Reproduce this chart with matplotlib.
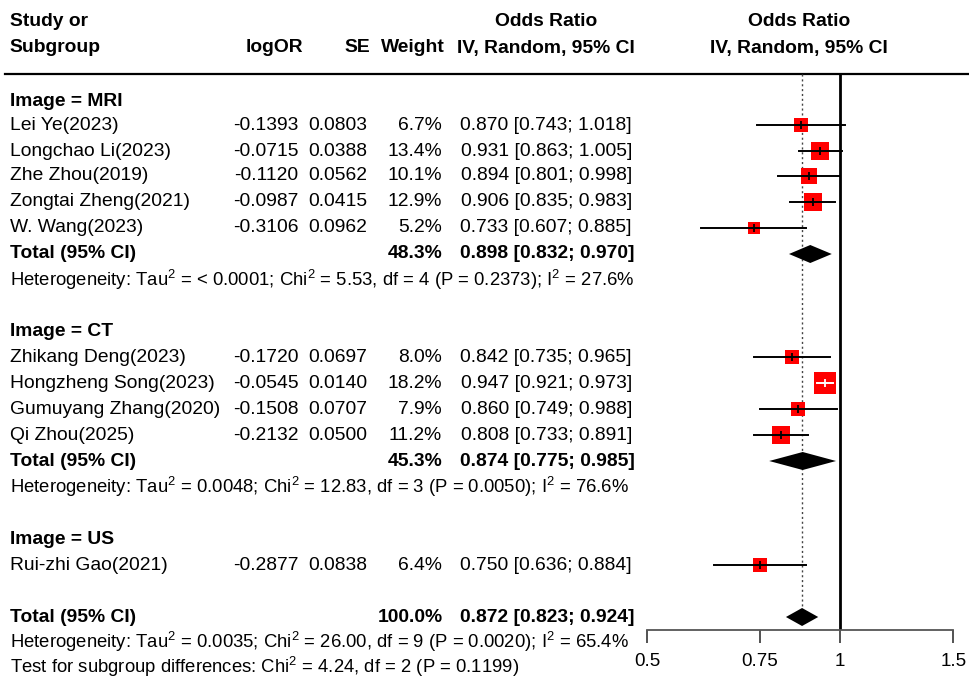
import numpy as np
import matplotlib
matplotlib.use("Agg")
import matplotlib.pyplot as plt

plt.rcParams['font.family'] = ['Liberation Sans', 'DejaVu Sans']
plt.rcParams['mathtext.fontset'] = 'custom'
plt.rcParams['mathtext.rm'] = 'Liberation Sans'
plt.rcParams['mathtext.it'] = 'Liberation Sans'

# study data per subgroup
studies = ['Lei Ye(2023)', 'Longchao Li(2023)', 'Zhe Zhou(2019)', 'Zongtai Zheng(2021)', 'W. Wang(2023)',
           'Zhikang Deng(2023)', 'Hongzheng Song(2023)', 'Gumuyang Zhang(2020)', 'Qi Zhou(2025)',
           'Rui-zhi Gao(2021)']
group = ['MRI', 'MRI', 'MRI', 'MRI', 'MRI', 'CT', 'CT', 'CT', 'CT', 'US']
logor = [-0.1393, -0.0715, -0.1120, -0.0987, -0.3106, -0.1720, -0.0545, -0.1508, -0.2132, -0.2877]
se = [0.0803, 0.0388, 0.0562, 0.0415, 0.0962, 0.0697, 0.0140, 0.0707, 0.0500, 0.0838]
weight = [6.7, 13.4, 10.1, 12.9, 5.2, 8.0, 18.2, 7.9, 11.2, 6.4]
odds = [0.870, 0.931, 0.894, 0.906, 0.733, 0.842, 0.947, 0.860, 0.808, 0.750]
lower = [0.743, 0.863, 0.801, 0.835, 0.607, 0.735, 0.921, 0.749, 0.733, 0.636]
upper = [1.018, 1.005, 0.998, 0.983, 0.885, 0.965, 0.973, 0.988, 0.891, 0.884]

# pooled estimates (MRI, CT, overall)
pooled_weight = [48.3, 45.3, 100.0]
pooled_or = [0.898, 0.874, 0.872]
pooled_lo = [0.832, 0.775, 0.823]
pooled_hi = [0.970, 0.985, 0.924]

het_text = ['Heterogeneity: Tau$^2$ = < 0.0001; Chi$^2$ = 5.53, df = 4 (P = 0.2373); I$^2$ = 27.6%',
            'Heterogeneity: Tau$^2$ = 0.0048; Chi$^2$ = 12.83, df = 3 (P = 0.0050); I$^2$ = 76.6%',
            'Heterogeneity: Tau$^2$ = 0.0035; Chi$^2$ = 26.00, df = 9 (P = 0.0020); I$^2$ = 65.4%']
subgroup_test = 'Test for subgroup differences: Chi$^2$ = 4.24, df = 2 (P = 0.1199)'

xticks = [0.5, 0.75, 1, 1.5]
xticklabels = ['0.5', '0.75', '1', '1.5']

# row layout (pixels from top)
head_y = {'MRI': 101, 'CT': 331, 'US': 539}
study_y = [125, 151, 176, 202, 228, 357, 383, 409, 435, 565]
total_y = [254, 461, 617]
het_y = [280, 487, 642]
test_y = 667

W, H = 969, 682
fig = plt.figure(figsize=(W / 100, H / 100), dpi=100)

tab = fig.add_axes([0, 0, 1, 1])
tab.set_xlim(0, W)
tab.set_ylim(H, 0)
tab.axis('off')

fs = 13.9
fs_het = 13.3
x_name, x_lor, x_se, x_w, x_ci = 10, 298.5, 367, 442, 632

# header
tab.text(x_name, 22, 'Study or', fontsize=fs, fontweight='bold', va='center')
tab.text(x_name, 48, 'Subgroup', fontsize=fs, fontweight='bold', va='center')
tab.text(303, 48, 'logOR', fontsize=fs, fontweight='bold', va='center', ha='right')
tab.text(370, 48, 'SE', fontsize=fs, fontweight='bold', va='center', ha='right')
tab.text(445, 48, 'Weight', fontsize=fs, fontweight='bold', va='center', ha='right')
tab.text(546, 22, 'Odds Ratio', fontsize=fs, fontweight='bold', va='center', ha='center')
tab.text(546, 48, 'IV, Random, 95% CI', fontsize=fs, fontweight='bold', va='center', ha='center')
tab.text(799, 22, 'Odds Ratio', fontsize=fs, fontweight='bold', va='center', ha='center')
tab.text(799, 48, 'IV, Random, 95% CI', fontsize=fs, fontweight='bold', va='center', ha='center')
tab.plot([5, W], [73.5, 73.5], color='black', lw=1.6)

for g, y in head_y.items():
    tab.text(x_name, y, 'Image = ' + g, fontsize=fs, fontweight='bold', va='center')

for i, name in enumerate(studies):
    y = study_y[i]
    tab.text(x_name, y, name, fontsize=fs, va='center')
    tab.text(x_lor, y, '%.4f' % logor[i], fontsize=fs, va='center', ha='right')
    tab.text(x_se, y, '%.4f' % se[i], fontsize=fs, va='center', ha='right')
    tab.text(x_w, y, '%.1f%%' % weight[i], fontsize=fs, va='center', ha='right')
    tab.text(x_ci, y, '%.3f [%.3f; %.3f]' % (odds[i], lower[i], upper[i]), fontsize=fs, va='center', ha='right')

for k in range(3):
    y = total_y[k]
    tab.text(x_name, y, 'Total (95% CI)', fontsize=fs, fontweight='bold', va='center')
    tab.text(x_w + 1, y, '%.1f%%' % pooled_weight[k], fontsize=fs, fontweight='bold', va='center', ha='right')
    tab.text(x_ci + 3, y, '%.3f [%.3f; %.3f]' % (pooled_or[k], pooled_lo[k], pooled_hi[k]),
             fontsize=fs, fontweight='bold', va='center', ha='right')
    tab.text(x_name, het_y[k], het_text[k], fontsize=fs_het, va='center')
tab.text(x_name, test_y, subgroup_test, fontsize=fs_het, va='center')

# forest panel, y in the same pixel rows
left, right, top, bottom = 647, 953.3, 74, 629.5
ax = fig.add_axes([left / W, (H - bottom) / H, (right - left) / W, (bottom - top) / H])
ax.patch.set_alpha(0)
ax.set_xscale('log')
ax.set_xlim(0.5, 1.5)
ax.set_ylim(bottom, top)
for s in ['left', 'right', 'top']:
    ax.spines[s].set_visible(False)
ax.spines['bottom'].set_color('#555555')
ax.spines['bottom'].set_linewidth(1.3)
ax.set_yticks([])
ax.set_xticks(xticks)
ax.set_xticklabels(xticklabels, fontsize=13.5)
ax.xaxis.set_minor_locator(matplotlib.ticker.NullLocator())
ax.tick_params(axis='x', direction='out', length=9, width=1.3, color='#444444', pad=8)

ax.axvline(1, color='black', lw=2, zorder=1)
ax.plot([pooled_or[2], pooled_or[2]], [top, total_y[2]], color='#444444', lw=1, ls=(0, (1.5, 2)), zorder=1)

for i in range(len(studies)):
    y = study_y[i]
    side = 5.15 * np.sqrt(weight[i]) * 0.72
    ax.plot(odds[i], y, marker='s', ms=side, color='#ff0000', mec='#ff0000', mew=0, zorder=3)
    inside = side / 0.72 / 2
    # CI line is white when it sits inside the box
    lo_px = np.log(lower[i] / odds[i]) * 278.5
    hi_px = np.log(upper[i] / odds[i]) * 278.5
    c = 'white' if (abs(lo_px) < inside and hi_px < inside) else 'black'
    ax.plot([lower[i], upper[i]], [y, y], color=c, lw=1.4, zorder=4)
    ax.plot(odds[i], y, marker='|', ms=6, mew=1.3, color=c, zorder=5)

for k in range(3):
    y = total_y[k]
    ax.fill([pooled_lo[k], pooled_or[k], pooled_hi[k], pooled_or[k]],
            [y, y - 9, y, y + 9], color='black', zorder=4, lw=0)

fig.savefig('out.png', dpi=100)
